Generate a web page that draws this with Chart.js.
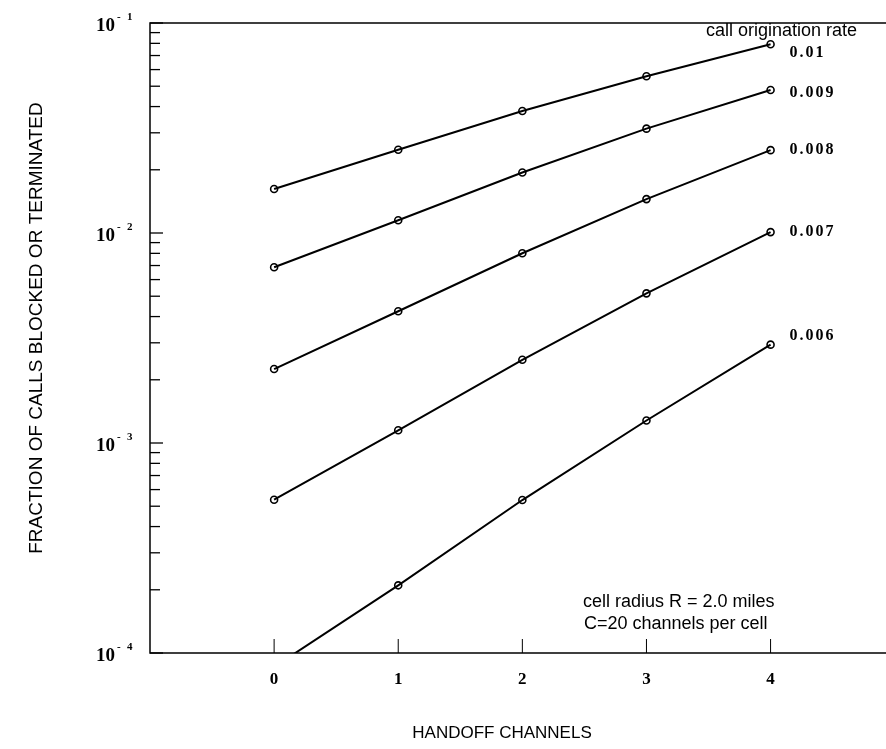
<!DOCTYPE html>
<html>
<head>
<meta charset="utf-8">
<script src="https://cdn.jsdelivr.net/npm/chart.js@4.4.0/dist/chart.umd.min.js"></script>
<style>
  html, body { margin: 0; padding: 0; background: #fff; }
  #wrap { width: 886px; height: 749px; }
</style>
</head>
<body>
<div id="wrap"><canvas id="c" width="886" height="749"></canvas></div>
<script>
// Handoff channels on the x axis
const handoffChannels = [0, 1, 2, 3, 4];

// Call origination rates, one curve each
const rateLabels = ['0.01', '0.009', '0.008', '0.007', '0.006'];

// Fraction of calls blocked or terminated for each rate
const rate010 = [0.0162, 0.0249, 0.0381, 0.0558, 0.0792];
const rate009 = [0.00687, 0.0115, 0.0194, 0.0314, 0.0480];
const rate008 = [0.00225, 0.00424, 0.00801, 0.0145, 0.0248];
const rate007 = [0.000537, 0.00115, 0.00249, 0.00516, 0.0101];
const rate006 = [0.0000858, 0.00021, 0.000535, 0.00128, 0.00294];

// Tick labels
const xTickLabels = ['0', '1', '2', '3', '4'];
const yDecades = [1e-1, 1e-2, 1e-3, 1e-4];
const yExponents = ['1', '2', '3', '4'];

// Annotation text
const axisTitleX = 'HANDOFF CHANNELS';
const axisTitleY = 'FRACTION OF CALLS BLOCKED OR TERMINATED';
const legendTitle = 'call origination rate';
const noteLines = ['cell radius R = 2.0 miles', 'C=20 channels per cell'];

const seriesValues = [rate010, rate009, rate008, rate007, rate006];
// vertical nudge for each curve's end label (px)
const labelNudge = [9, 3, 0, 0, -9];

const SERIF = '"Liberation Serif", "Times New Roman", serif';
const SANS = '"Liberation Sans", Arial, sans-serif';

const frame = {
  id: 'frame',
  afterDraw(chart) {
    const { ctx, chartArea: a, scales: { x, y } } = chart;
    ctx.save();
    ctx.strokeStyle = '#000';
    ctx.fillStyle = '#000';

    // axis box: left, top, bottom
    ctx.lineWidth = 1.5;
    ctx.beginPath();
    ctx.moveTo(a.right, a.top); ctx.lineTo(a.left, a.top);
    ctx.lineTo(a.left, a.bottom); ctx.lineTo(a.right, a.bottom);
    ctx.stroke();

    // y ticks pointing inward (major + minor per decade)
    ctx.lineWidth = 1.3;
    yDecades.forEach((d) => {
      const py = y.getPixelForValue(d);
      ctx.beginPath(); ctx.moveTo(a.left, py); ctx.lineTo(a.left + 13, py); ctx.stroke();
      if (d > 1e-4) {
        const base = d / 10;
        for (let k = 2; k <= 9; k++) {
          const my = y.getPixelForValue(base * k);
          ctx.beginPath(); ctx.moveTo(a.left, my); ctx.lineTo(a.left + 10, my); ctx.stroke();
        }
      }
    });

    // y tick labels: 10 with raised exponent
    yDecades.forEach((d, i) => {
      const py = y.getPixelForValue(d);
      ctx.textAlign = 'left';
      ctx.textBaseline = 'alphabetic';
      ctx.font = 'bold 19px ' + SERIF;
      ctx.fillText('10', 96, py + 8);
      ctx.font = 'bold 11px ' + SERIF;
      ctx.fillText('-', 117, py - 3);
      ctx.fillText(yExponents[i], 127, py - 3);
    });

    // x ticks pointing inward and labels
    ctx.lineWidth = 1;
    handoffChannels.forEach((v, i) => {
      const px = x.getPixelForValue(v);
      ctx.beginPath(); ctx.moveTo(px, a.bottom); ctx.lineTo(px, a.bottom - 14); ctx.stroke();
      ctx.font = 'bold 17px ' + SERIF;
      ctx.textAlign = 'center';
      ctx.textBaseline = 'middle';
      ctx.fillText(xTickLabels[i], px, a.bottom + 27);
    });

    // curve end labels
    ctx.font = 'bold 16px ' + SERIF;
    ctx.textAlign = 'left';
    ctx.textBaseline = 'middle';
    ctx.letterSpacing = '2px';
    const lastX = handoffChannels[handoffChannels.length - 1];
    seriesValues.forEach((vals, i) => {
      const py = y.getPixelForValue(vals[vals.length - 1]);
      ctx.fillText(rateLabels[i], x.getPixelForValue(lastX) + 19, py + labelNudge[i]);
    });
    ctx.letterSpacing = '0px';

    // sans-serif text
    ctx.font = '18px ' + SANS;
    ctx.textAlign = 'left';
    ctx.fillText(legendTitle, 706, 31);
    ctx.fillText(noteLines[0], 583, 602);
    ctx.fillText(noteLines[1], 584, 624);

    ctx.font = '17px ' + SANS;
    ctx.textAlign = 'center';
    ctx.fillText(axisTitleX, 502, 733);
    ctx.font = '19px ' + SANS;
    ctx.translate(37, 328);
    ctx.rotate(-Math.PI / 2);
    ctx.fillText(axisTitleY, 0, 0);
    ctx.restore();
  }
};

const datasets = seriesValues.map((vals, i) => ({
  label: rateLabels[i],
  data: handoffChannels.map((c, j) => ({ x: c, y: vals[j] })),
  borderColor: '#000',
  borderWidth: 2,
  pointStyle: 'circle',
  pointRadius: 3.5,
  pointBorderWidth: 1.6,
  pointBorderColor: '#000',
  pointBackgroundColor: 'rgba(255,255,255,0)',
  tension: 0,
  clip: 0
}));

new Chart(document.getElementById('c'), {
  type: 'line',
  data: { datasets },
  plugins: [frame],
  options: {
    responsive: false,
    animation: false,
    events: [],
    layout: { autoPadding: false, padding: { left: 150, top: 23, right: 0, bottom: 96 } },
    plugins: { legend: { display: false }, tooltip: { enabled: false } },
    scales: {
      x: { type: 'linear', min: -1, max: 4.93, display: false },
      y: { type: 'logarithmic', min: 1e-4, max: 1e-1, display: false }
    }
  }
});
</script>
</body>
</html>
